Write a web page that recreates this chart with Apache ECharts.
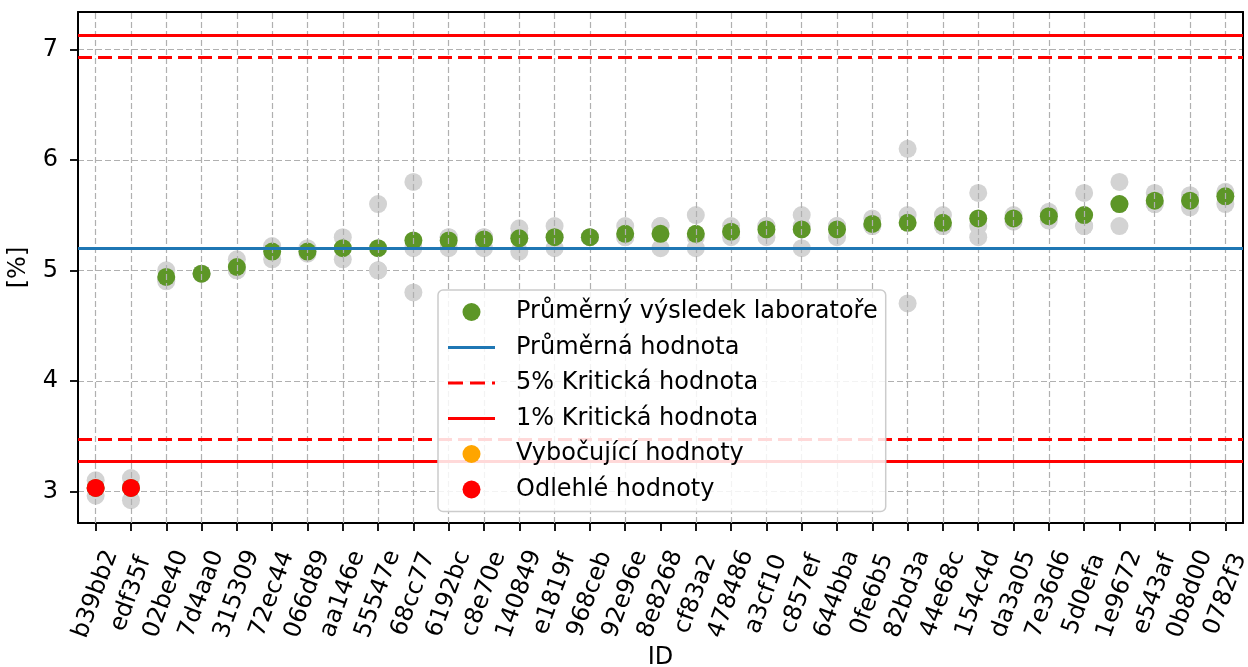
<!DOCTYPE html>
<html>
<head>
<meta charset="utf-8">
<script src="https://cdn.jsdelivr.net/npm/echarts@6/dist/echarts.min.js"></script>
<style>
html,body{margin:0;padding:0;background:#fff;}
#chart{width:1248px;height:667px;}
</style>
</head>
<body>
<div id="chart"></div>
<script>
// ---- data ----
const categories = ['b39bb2','edf35f','02be40','7d4aa0','315309','72ec44','066d89','aa146e','55547e','68cc77','6192bc','c8e70e','140849','e1819f','968ceb','92e96e','8e8268','cf83a2','478486','a3cf10','c857ef','644bba','0fe6b5','82bd3a','44e68c','154c4d','da3a05','7e36d6','5d0efa','1e9672','e543af','0b8d00','0782f3'];
const labMeans = [3.03,3.03,4.94,4.97,5.03,5.17,5.17,5.20,5.20,5.27,5.27,5.28,5.29,5.30,5.30,5.33,5.33,5.33,5.35,5.37,5.37,5.37,5.42,5.43,5.43,5.47,5.47,5.49,5.50,5.60,5.63,5.63,5.67];
const rep1 = [3.10,3.12,5.00,4.97,5.10,5.22,5.20,5.30,5.60,5.80,5.30,5.30,5.38,5.40,5.30,5.40,5.40,5.50,5.40,5.40,5.50,5.40,5.47,6.10,5.50,5.70,5.50,5.53,5.70,5.80,5.70,5.68,5.71];
const rep2 = [2.96,2.92,4.90,4.97,5.00,5.10,5.15,5.10,5.00,4.80,5.20,5.20,5.17,5.20,5.30,5.30,5.20,5.20,5.30,5.30,5.20,5.30,5.40,4.70,5.40,5.30,5.44,5.45,5.40,5.40,5.60,5.57,5.60];
const rep3 = [3.03,3.05,4.92,4.97,5.00,5.20,5.17,5.20,5.00,5.20,5.30,5.30,5.32,5.30,5.30,5.30,5.40,5.30,5.35,5.40,5.40,5.40,5.40,5.50,5.40,5.40,5.47,5.49,5.40,5.60,5.60,5.64,5.70];
const meanValue = 5.20;
const crit5 = [3.47, 6.93];
const crit1 = [3.27, 7.13];
const vybocujici = [];               // outlier (orange) labs
const odlehle = ['b39bb2','edf35f']; // outlier (red) labs
const yTicks = [3,4,5,6,7];

const names = {
  lab: 'Průměrný výsledek laboratoře',
  mean: 'Průměrná hodnota',
  c5: '5% Kritická hodnota',
  c1: '1% Kritická hodnota',
  vyb: 'Vybočující hodnoty',
  odl: 'Odlehlé hodnoty'
};

// ---- build ----
const FONT = 'DejaVu Sans';
const FS = 24;
const greyData = [];
[rep1, rep2, rep3].forEach(r => r.forEach((v, i) => greyData.push([categories[i], v])));
const greenData = categories.map((c, i) => [c, labMeans[i]]);
const redData = odlehle.map(c => [c, labMeans[categories.indexOf(c)]]);
const orangeData = vybocujici.map(c => [c, labMeans[categories.indexOf(c)]]);

const gridDash = {color: '#b0b0b0', width: 1.2, type: [6, 3]};
const noLbl = {show: false};
const mlBase = {silent: true, symbol: ['none','none'], label: noLbl, emphasis: {disabled: true}, animation: false};
const solidIcon = 'path://M0,0H47V3H0Z';
const dashIcon = 'path://M0,0H15V3H0Z M22,0H37V3H22Z M44,0H47V3H44Z';

const chart = echarts.init(document.getElementById('chart'), null, {renderer: 'canvas'});
chart.setOption({
  animation: false,
  textStyle: {fontFamily: FONT},
  grid: {left: 78, right: 5, top: 12, bottom: 144, outerBoundsMode: 'none', containLabel: false, show: false},
  legend: {
    orient: 'vertical', left: 438, top: 290, z: 10,
    data: [
      {name: names.lab, icon: 'circle'},
      {name: names.mean, icon: solidIcon, itemStyle: {color: '#1f77b4'}},
      {name: names.c5, icon: dashIcon, itemStyle: {color: '#ff0000'}},
      {name: names.c1, icon: solidIcon, itemStyle: {color: '#ff0000'}},
      {name: names.vyb, icon: 'circle'},
      {name: names.odl, icon: 'circle'}
    ],
    itemWidth: 47, itemHeight: 18, itemGap: 11.5,
    padding: [10, 8, 10, 10],
    backgroundColor: 'rgba(255,255,255,0.85)',
    borderColor: '#cccccc', borderWidth: 1.5, borderRadius: 5,
    textStyle: {fontFamily: FONT, fontSize: FS, color: '#000', lineHeight: 24, padding: [0, 0, 0, 16]},
    selectedMode: false
  },
  xAxis: [{
    type: 'category', data: categories, boundaryGap: true,
    name: 'ID', nameLocation: 'middle', nameGap: 123, nameMoveOverlap: false,
    nameTextStyle: {fontFamily: FONT, fontSize: FS, color: '#000'},
    axisLine: {show: true, lineStyle: {color: '#000', width: 2}},
    axisTick: {show: true, alignWithLabel: true, length: 8, lineStyle: {color: '#000', width: 1.8}},
    axisLabel: {interval: 0, rotate: 70, align: 'center', verticalAlign: 'middle', margin: 71, fontFamily: FONT, fontSize: FS, color: '#000'},
    splitLine: {show: false}
  }, {
    type: 'category', data: categories, position: 'top', boundaryGap: true,
    axisLine: {show: true, onZero: false, lineStyle: {color: '#000', width: 2}},
    axisTick: {show: false}, axisLabel: {show: false}, splitLine: {show: false}
  }],
  yAxis: [{
    type: 'value', min: 2.713, max: 7.338, splitNumber: 5,
    name: '[%]', nameLocation: 'middle', nameGap: 47, nameMoveOverlap: false,
    nameTextStyle: {fontFamily: FONT, fontSize: FS, color: '#000'},
    axisLine: {show: true, onZero: false, lineStyle: {color: '#000', width: 2}},
    axisTick: {show: true, length: 8, lineStyle: {color: '#000', width: 1.8}},
    axisLabel: {margin: 20, fontFamily: FONT, fontSize: FS, color: '#000', showMinLabel: false, showMaxLabel: false,
      formatter: v => (yTicks.indexOf(v) >= 0 ? String(v) : '')},
    splitLine: {show: true, lineStyle: gridDash}
  }, {
    type: 'value', min: 2.713, max: 7.338, position: 'right',
    axisLine: {show: true, onZero: false, lineStyle: {color: '#000', width: 2}},
    axisTick: {show: false}, axisLabel: {show: false}, splitLine: {show: false}
  }],
  series: [
    {
      name: '_vgrid', type: 'line', data: [], z: 1, silent: true,
      markLine: Object.assign({}, mlBase, {lineStyle: gridDash, data: categories.map(c => ({xAxis: c}))})
    },
    {
      name: '_replicates', type: 'scatter', data: greyData, symbolSize: 18, z: 2, silent: true,
      itemStyle: {color: '#d3d3d3', opacity: 1}
    },
    {
      name: names.mean, type: 'line', data: [], z: 3, symbol: 'none', showSymbol: false,
      itemStyle: {color: '#1f77b4'},
      lineStyle: {color: '#1f77b4', width: 3},
      markLine: Object.assign({}, mlBase, {lineStyle: {color: '#1f77b4', width: 3, type: 'solid'}, data: [{yAxis: meanValue}]})
    },
    {
      name: names.c5, type: 'line', data: [], z: 3, symbol: 'none', showSymbol: false,
      itemStyle: {color: '#ff0000'},
      lineStyle: {color: '#ff0000', width: 3, type: [14, 6]},
      markLine: Object.assign({}, mlBase, {lineStyle: {color: '#ff0000', width: 3, type: [14, 6]}, data: crit5.map(v => ({yAxis: v}))})
    },
    {
      name: names.c1, type: 'line', data: [], z: 3, symbol: 'none', showSymbol: false,
      itemStyle: {color: '#ff0000'},
      lineStyle: {color: '#ff0000', width: 3, type: 'solid'},
      markLine: Object.assign({}, mlBase, {lineStyle: {color: '#ff0000', width: 3, type: 'solid'}, data: crit1.map(v => ({yAxis: v}))})
    },
    {
      name: names.lab, type: 'scatter', data: greenData, symbolSize: 18, z: 4, silent: true,
      itemStyle: {color: '#5d9627', opacity: 1}
    },
    {
      name: names.vyb, type: 'scatter', data: orangeData, symbolSize: 18, z: 5, silent: true,
      itemStyle: {color: '#ffa500', opacity: 1}
    },
    {
      name: names.odl, type: 'scatter', data: redData, symbolSize: 18, z: 5, silent: true,
      itemStyle: {color: '#ff0000', opacity: 1}
    }
  ]
});
</script>
</body>
</html>
